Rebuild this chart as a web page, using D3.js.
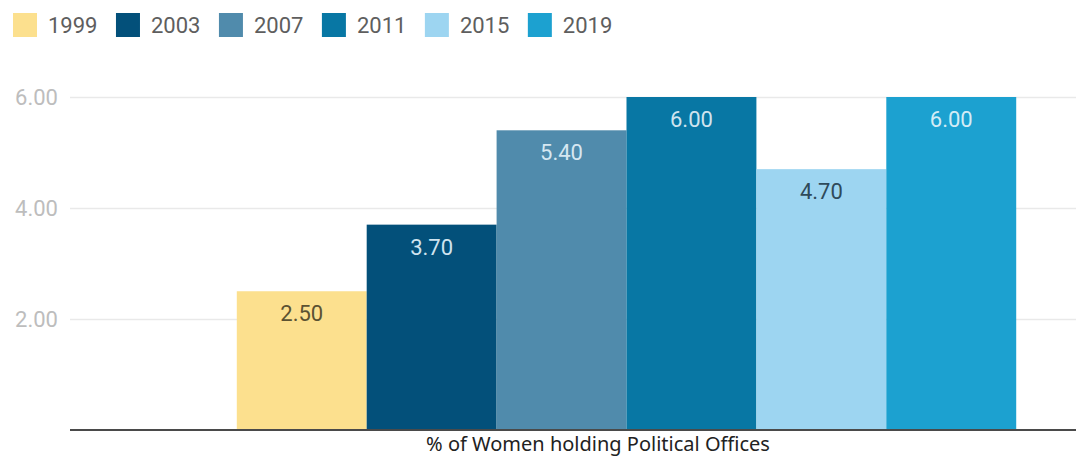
<!DOCTYPE html>
<html>
<head>
<meta charset="utf-8">
<script src="https://cdn.jsdelivr.net/npm/d3@7"></script>
<style>
  html, body { margin: 0; padding: 0; background: #fff; }
  svg { display: block; }
</style>
</head>
<body>
<svg id="chart" width="1076" height="457"></svg>
<script>
// Share of political offices held by women, by election year
const categories = ["% of Women holding Political Offices"];
const years = ["1999", "2003", "2007", "2011", "2015", "2019"];
const values = [2.5, 3.7, 5.4, 6.0, 4.7, 6.0];
const yTicks = [2, 4, 6];
const colors = ["#fce08e", "#03507a", "#508bac", "#0877a4", "#9dd5f1", "#1ca1d0"];
const labelColors = ["#5b5232", "#cfe3ef", "#d6e7f1", "#cfe4ef", "#2f4a5a", "#d4ecf6"];

const svg = d3.select("#chart");
const W = 1076, H = 457;
const plot = { left: 70, right: 1183, top: 97, bottom: 430 };

const y = d3.scaleLinear().domain([0, 6]).range([plot.bottom, plot.top]);
const x0 = d3.scaleBand().domain(categories).range([plot.left, plot.right])
  .paddingInner(0).paddingOuter(0.214);
const x1 = d3.scaleBand().domain(years).range([0, x0.bandwidth()]).padding(0);
const color = d3.scaleOrdinal().domain(years).range(colors);
const labelColor = d3.scaleOrdinal().domain(years).range(labelColors);

// Horizontal gridlines and y tick labels
const yAxis = d3.axisLeft(y).tickValues(yTicks).tickFormat(d3.format(".2f"))
  .tickSize(-(W - plot.left)).tickPadding(12);
const gy = svg.append("g").attr("transform", `translate(${plot.left},0)`).call(yAxis);
gy.select(".domain").remove();
gy.selectAll(".tick line").attr("stroke", "#e9e9e9").attr("stroke-width", 1.5);
gy.selectAll(".tick text")
  .attr("fill", "#bdbdbd")
  .style("font-family", "Roboto, sans-serif")
  .style("font-size", "22px");

// Bars
const rows = years.map((yr, i) => ({ year: yr, value: values[i], cat: categories[0] }));
const g = svg.append("g");
g.selectAll("rect").data(rows).join("rect")
  .attr("x", d => x0(d.cat) + x1(d.year))
  .attr("y", d => y(d.value))
  .attr("width", x1.bandwidth())
  .attr("height", d => y(0) - y(d.value))
  .attr("fill", d => color(d.year));

// Value labels inside bar tops
g.selectAll("text.val").data(rows).join("text")
  .attr("class", "val")
  .attr("x", d => x0(d.cat) + x1(d.year) + x1.bandwidth() / 2)
  .attr("y", d => y(d.value) + 30)
  .attr("text-anchor", "middle")
  .attr("fill", d => labelColor(d.year))
  .style("font-family", "Roboto, sans-serif")
  .style("font-size", "22px")
  .text(d => d3.format(".2f")(d.value));

// Baseline axis
svg.append("line")
  .attr("x1", plot.left).attr("x2", W)
  .attr("y1", y(0)).attr("y2", y(0))
  .attr("stroke", "#4a4a4a").attr("stroke-width", 2);

// Category title under the axis
svg.append("text")
  .attr("x", 598).attr("y", 451)
  .attr("text-anchor", "middle")
  .attr("fill", "#222")
  .style("font-family", "'Noto Sans', 'Open Sans', sans-serif")
  .style("font-size", "20px")
  .text(categories[0]);

// Legend
const legend = svg.append("g").attr("transform", "translate(13,13)");
let lx = 0;
years.forEach((yr, i) => {
  const item = legend.append("g").attr("transform", `translate(${lx},0)`);
  item.append("rect").attr("width", 24).attr("height", 24).attr("fill", colors[i]);
  const t = item.append("text")
    .attr("x", 35).attr("y", 20)
    .attr("fill", "#5e5e5e")
    .style("font-family", "Roboto, sans-serif")
    .style("font-size", "22px")
    .text(yr);
  lx += 35 + t.node().getComputedTextLength() + 18.5;
});
</script>
</body>
</html>
